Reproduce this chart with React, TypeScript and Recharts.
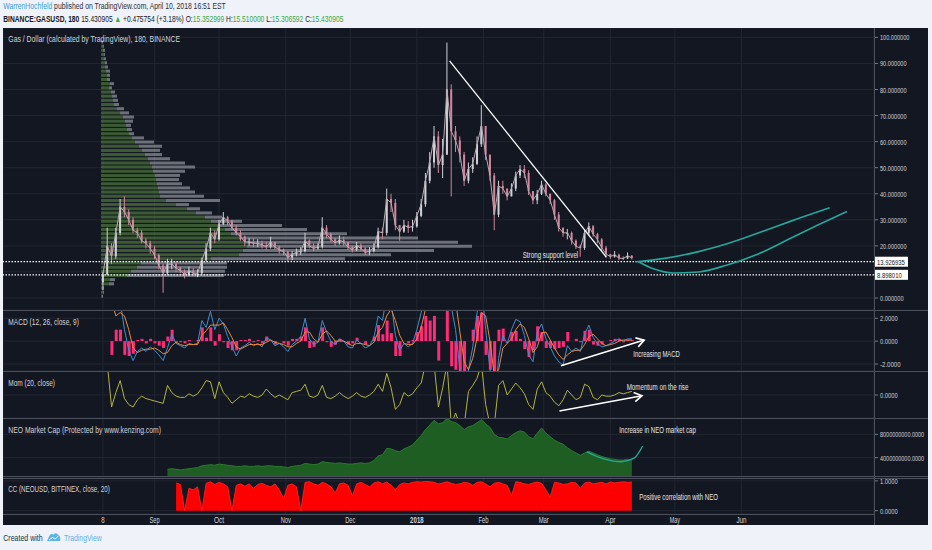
import React from "react";
import {
  ComposedChart,
  BarChart,
  Bar,
  Line,
  Area,
  XAxis,
  YAxis,
  CartesianGrid,
  ReferenceLine,
} from "recharts";

const FONT = "'Liberation Sans', Arial, sans-serif";
const BG = "#131722";
const GRID = "#222631";
const BORDER = "#4a4f5b";
const AXIS_TEXT = "#d1d4dc";
const TEAL = "#26a69a";
const CANDLE_UP = "#cfd0d6";
const CANDLE_DOWN = "#d4849b";
const UP_GREEN = "#35a84a";
const DARK_TEXT = "#131722";

const CHART_W = 925;
const AXIS_W = 54;
const X_DOMAIN: [number, number] = [-46.5, 358.6];

// x axis: days since Aug 8 2017
const monthTicks = [0, 24, 54, 85, 115, 146, 177, 205, 236, 266, 297];
const monthLabels = ["8", "Sep", "Oct", "Nov", "Dec", "2018", "Feb", "Mar", "Apr", "May", "Jun"];

// GAS/USD, one candle every 2 days from Aug 8 2017
const closes = [
  9, 20, 16, 25, 35, 33, 30, 26, 25, 22, 21, 19, 16.5, 12.5, 9.5, 13, 13, 11.5, 10.5, 9,
  10.5, 9.5, 9.5, 14.5, 19, 25, 22.5, 28.5, 31, 29.5, 27, 25, 23.5, 21.5, 21.5, 21, 21, 20.3, 19.7, 21.5,
  19.5, 18.5, 17.8, 15.5, 16.8, 17.5, 18, 22, 20, 19, 19.7, 27, 24.5, 22.5, 21.2, 22.2, 21.5, 19.5, 18.5, 20.2,
  19, 17.5, 18, 19.5, 25.5, 25, 38, 36.5, 28, 25.5, 28, 27, 27.5, 31.5, 36, 45, 52, 62, 51, 55,
  80, 64, 60.5, 55, 45, 49.5, 51.5, 59, 66, 55, 47, 32, 43, 42, 39, 42, 47, 49.5, 48, 41,
  37.5, 40, 43.5, 40, 37.5, 32, 27, 25, 25, 22, 19.8, 19.2, 25, 27.5, 24.5, 22.5, 19.3, 16.8, 15.9, 16.6,
  15.3, 15.2, 16.2, 15.4,
];
const highs = [
  10, 27, 21, 27, 38, 39, 34, 31, 27, 26, 23, 22, 20, 17, 13, 15, 15, 14, 12, 11,
  12, 11.5, 11, 15.5, 21, 27, 26, 30, 33, 31.5, 30, 28, 26, 24, 23, 23, 22.5, 22, 21.5, 23.5,
  21.5, 20, 19, 18, 18, 19, 19.5, 25, 22.5, 21, 21, 31, 28, 25, 23, 24, 23.5, 21.5, 20, 21.5,
  21, 19.5, 19.5, 21, 27, 27, 42, 40, 38, 28, 30, 29.5, 30, 33, 38, 48, 56, 66, 64, 61,
  98, 82, 66, 62, 56, 52, 54, 62, 74, 66, 55, 48, 45, 45, 42, 44, 48.5, 51, 51, 49,
  41, 41.5, 45, 44, 40, 38, 33, 27, 26.5, 25.5, 22.5, 20.5, 26, 29, 28, 25, 23, 20, 17, 18,
  17, 16, 17.5, 16.5,
];
const lows = [
  3, 9, 13, 15, 24, 31, 28, 25, 23, 21, 19, 17, 15, 11, 2, 9, 11, 10, 9.5, 7.5,
  8.5, 8.5, 8, 9, 14, 18, 21, 22, 28, 28, 26, 24, 22, 20, 20, 19.5, 19.5, 19, 18.5, 19,
  18.5, 17, 16.5, 14, 14.5, 16, 16.5, 17.5, 19, 18, 18.5, 19, 23, 21.5, 20, 20.5, 20, 18.5, 17.5, 18,
  18, 16.5, 16.5, 17.5, 19, 22.5, 24, 33, 26, 22, 25, 25, 25.5, 27, 31, 35, 44, 50, 48, 46,
  55, 39, 56, 52, 43, 44, 48, 51, 58, 53, 45, 26, 31, 40, 37.5, 39, 41, 46, 46, 39.5,
  36, 36, 39.5, 39, 36, 30, 25.5, 23.5, 22.5, 20.5, 18.8, 15.8, 18.5, 24, 23.5, 21, 18, 15.5, 15, 15.5,
  14.5, 14.6, 15, 14.8,
];

// MACD (12, 26, close, 9)
const macdLine = [
  null, null, 3.0, 3.2, 3.5, 1.0, -0.8, -1.7, -0.9, -0.6, -0.9, -0.5, -0.8, -1.2, -1.7, -0.6, 0.6, -0.2, -0.4, -0.6,
  -0.2, -0.3, -0.2, 1.8, 1.2, 2.6, 1.0, 2.0, 1.5, 0.4, -0.5, -1.3, -0.6, -0.4, -0.1, -0.4, -0.2, -0.5, 0.3, 0.1,
  -0.4, -0.2, -0.5, -0.9, -0.3, 0.0, 0.4, 2.0, 0.2, -0.3, -0.1, 1.8, 0.8, 0.0, -0.3, 0.2, 0.0, -0.5, -0.6, 0.1,
  -0.2, -0.6, -0.4, 0.3, 2.2, 1.8, 4.0, 3.5, 0.5, -0.8, -0.2, -0.5, -0.2, 1.0, 2.5, 5, 6, 8, 3.5, 4.5,
  9, 3.0, 1.0, -2.5, -5, -2.5, -0.5, 2.5, 5, 1.0, -2.5, -6, -1.5, 0.5, -0.2, 1.0, 1.9, 1.7, 0.5, -1.2,
  -1.8, 0.8, 1.5, 0.2, -0.5, -1.3, -1.8, -2.1, -0.4, -0.9, -0.6, -0.9, 0.6, 1.4, 0.3, -0.2, -0.5, -0.4, -0.2, 0.0,
  0.2, 0.0, 0.2, 0.2,
];
const signalLine = [
  null, null, 3.5, 2.2, 2.5, 2.2, 1.0, -0.6, -1.0, -0.8, -0.7, -0.7, -0.6, -0.8, -1.1, -1.0, -0.4, -0.1, -0.3, -0.4,
  -0.3, -0.3, -0.3, 0.5, 0.9, 1.4, 1.4, 1.4, 1.6, 1.0, 0.3, -0.5, -0.7, -0.5, -0.3, -0.3, -0.3, -0.3, -0.1, 0.1,
  -0.1, -0.2, -0.3, -0.5, -0.5, -0.2, 0.0, 0.8, 0.8, 0.2, -0.1, 0.6, 0.9, 0.5, 0.0, 0.0, 0.0, -0.2, -0.4, -0.2,
  -0.2, -0.3, -0.4, -0.1, 0.8, 1.2, 2.2, 2.8, 1.8, 0.5, -0.2, -0.3, -0.3, 0.2, 1.2, 2.8, 4.2, 5.8, 5.2, 4.5,
  6, 5.2, 3.5, 0.8, -1.8, -2.5, -1.5, 0.3, 2.5, 2.2, 0.0, -3, -2.5, -0.6, -0.2, 0.2, 1.0, 1.5, 1.2, 0.2,
  -1.0, -0.5, 0.7, 0.8, 0.1, -0.6, -1.2, -1.6, -1.2, -0.9, -0.8, -0.8, -0.3, 0.4, 0.6, 0.2, -0.2, -0.4, -0.3, -0.2,
  0.0, 0.1, 0.1, 0.1,
];
const macdHist = [
  null, null, -1.2, 1.0, 1.0, -1.2, -1.3, -1.1, 0.1, 0.2, -0.2, 0.2, -0.2, -0.4, -0.6, 0.4, 1.0, -0.1, -0.1, -0.2,
  0.1, 0.0, 0.1, 1.2, 0.3, 1.2, -0.4, 0.6, -0.1, -0.6, -0.8, -0.8, 0.1, 0.1, 0.2, -0.1, 0.1, -0.2, 0.4, 0.0,
  -0.3, 0.0, -0.2, -0.4, 0.2, 0.2, 0.4, 1.2, -0.6, -0.5, 0.0, 1.2, -0.1, -0.5, -0.3, 0.2, 0.0, -0.3, -0.2, 0.3,
  0.0, -0.3, 0.0, 0.4, 1.4, 0.6, 1.8, 0.7, -1.3, -1.3, 0.0, -0.2, 0.1, 0.8, 1.3, 2.2, 1.8, 2.2, -1.7, 0.0,
  3.0, -2.2, -2.5, -3.0, -3.0, 0.0, 1.0, 2.2, 2.5, -1.2, -2.5, -3.0, 1.0, 1.1, 0.0, 0.8, 0.9, 0.2, -0.7, -1.4,
  -0.8, 1.3, 0.8, -0.6, -0.6, -0.7, -0.6, -0.5, 0.8, 0.0, 0.2, -0.1, 0.9, 1.0, -0.3, -0.4, -0.3, 0.0, 0.1, 0.2,
  0.2, -0.1, 0.1, 0.1,
];

// Mom (20, close)
const momentum = [
  null, 26, -10, 2, 12, -3, -8, -10, -4, -1, -3, -4, -5, -6, -7, 8, 2, -1, -2, -2,
  1, -1, 1, 6, 12, 11, -3, 11, 2, -2, -7, -4, -1, -2, 1, -1, -2, 0, 5, 1,
  -2, 0, -2, -4, 2, 3, 4, 9, -1, -2, 0, 8, -2, -3, -1, 2, -1, -3, -1, 2,
  -1, -2, 0, 3, 9, 3, 18, 6, -12, -8, 2, -1, 1, 6, 10, 26, 26, 26, -10, 6,
  26, -25, -15, -25, -25, 3, 8, 14, 26, -8, -25, -25, 8, 12, 0, 5, 10, 6, 1, -8,
  -12, 5, 11, 2, -1, -6, -9, -4, 4, 0, -4, -2, 9, 7, -2, -4, 0, -1, -1, 0,
  2, 1, 2, 3,
];

// NEO market cap, billions USD
const neoCapBn = [
  null, null, null, null, null, null, null, null, null, null, null, null, null, null, null,
  2.0, 2.1, 2.0, 1.9, 2.0, 2.1, 2.2, 2.3, 2.6, 2.7, 2.8, 2.7, 2.9, 2.8, 2.7, 2.6, 2.5, 2.5, 2.6, 2.5,
  2.5, 2.6, 2.5, 2.6, 2.6, 2.5, 2.5, 2.4, 2.3, 2.5, 2.6, 2.7, 3.0, 2.9, 2.8, 2.9, 3.3, 3.2, 3.1, 3.0,
  3.1, 3.0, 2.9, 2.9, 3.0, 3.1, 3.0, 3.1, 3.5, 4.3, 4.5, 5.6, 5.5, 5.2, 5.0, 5.5, 5.8, 6.2, 7.0, 7.8,
  8.8, 9.6, 10.4, 9.8, 10.0, 10.7, 10.2, 10.0, 9.5, 8.8, 9.3, 9.5, 10.0, 10.5, 9.8, 9.2, 8.0, 7.5, 7.4, 7.2,
  7.8, 8.3, 8.6, 8.4, 7.6, 7.2, 8.2, 9.1, 8.2, 7.6, 7.0, 6.6, 6.3, 5.7, 5.2, 4.8, 4.4, 4.8, 5.1, 4.8,
  4.5, 4.2, 4.0, 3.8, 3.7, 3.6, 3.6, 3.7, 3.6,
];

// CC (NEOUSD, BITFINEX, close, 20)
const correlation = [
  null, null, null, null, null, null, null, null, null, null, null, null, null, null, null, null, null,
  0.93, 0.88, 0.0, 0.75, 0.7, 0.8, 0.0, 0.92, 0.97, 0.88, 0.95, 0.9, 0.8, 0.0, 0.85, 0.9, 0.82, 0.9, 0.75,
  0.88, 0.92, 0.85, 0.8, 0.9, 0.7, 0.4, 0.85, 0.9, 0.8, 0.0, 0.95, 0.97, 0.9, 0.85, 0.95, 0.9, 0.8, 0.6,
  0.9, 0.93, 0.85, 0.5, 0.9, 0.95, 0.88, 0.8, 0.93, 0.97, 0.9, 0.96, 0.85, 0.7, 0.88, 0.93, 0.9, 0.95, 0.97,
  0.96, 0.98, 0.97, 0.95, 0.9, 0.93, 0.97, 0.92, 0.88, 0.9, 0.95, 0.93, 0.85, 0.95, 0.97, 0.9, 0.8, 0.92,
  0.95, 0.9, 0.85, 0.5, 0.97, 0.95, 0.9, 0.88, 0.93, 0.96, 0.92, 0.7, 0.45, 0.95, 0.93, 0.88, 0.9, 0.95,
  0.93, 0.75, 0.93, 0.96, 0.9, 0.93, 0.95, 0.9, 0.96, 0.93, 0.95, 0.97, 0.95, 0.96,
];

// visible range volume profile, one row per 1.6 price step from 0.8 upward
const profileUp = [
  1, 2, 2, 8, 9, 26, 30, 36, 40, 110, 138, 142, 146, 146, 138, 130, 124, 118, 110, 104,
  95, 86, 75, 65, 59, 58, 57, 56, 55, 54, 52, 51, 49, 47, 44, 41, 38, 34, 31, 28,
  26, 25, 24, 22, 19, 16, 13, 12, 11, 10, 8, 9, 6, 6, 5, 4, 4, 3, 3, 2, 2, 1,
];
const profileTotal = [
  2, 3, 3, 13, 14, 123, 124, 126, 126, 244, 290, 333, 371, 357, 317, 246, 206, 181, 141, 121,
  111, 99, 88, 119, 103, 94, 89, 81, 78, 79, 84, 94, 84, 69, 61, 59, 61, 53, 43, 33,
  31, 30, 32, 33, 28, 23, 18, 17, 16, 14, 11, 13, 9, 9, 9, 7, 6, 5, 4, 4, 3, 2,
];

// drawn projections
const projectionUpper = [
  { d: 248, v: 13.9 }, { d: 262, v: 15.3 }, { d: 277, v: 17.8 }, { d: 291, v: 21 },
  { d: 305, v: 25 }, { d: 320, v: 29.5 }, { d: 338, v: 34.6 },
];
const projectionLower = [
  { d: 249, v: 13.9 }, { d: 256, v: 11.2 }, { d: 265, v: 9.6 }, { d: 277, v: 10 },
  { d: 290, v: 12.6 }, { d: 305, v: 17 }, { d: 320, v: 23 }, { d: 334, v: 28.6 }, { d: 346, v: 33.2 },
];
const neoProjection = [
  { d: 225, v: 5.0 }, { d: 233, v: 3.8 }, { d: 241, v: 3.3 }, { d: 247, v: 3.9 }, { d: 251, v: 6.0 },
];
const supportLevels = [13.926935, 8.89801];
const supportLabels = ["13.926935", "8.898010"];

const days = closes.map((_, i) => i * 2);

const priceData = days.map((d, i) => ({
  d,
  o: i === 0 ? 6 : closes[i - 1],
  c: closes[i],
  h: highs[i],
  l: lows[i],
  range: [lows[i], highs[i]],
}));
const macdData = days.map((d, i) => ({ d, macd: macdLine[i], signal: signalLine[i], hist: macdHist[i] }));
const momData = days.map((d, i) => ({ d, mom: momentum[i] }));
const neoData = days.map((d, i) => ({ d, cap: neoCapBn[i] }));
const ccData = days.map((d, i) => ({ d, cc: correlation[i] }));
const profileData = profileTotal.map((t, i) => ({
  p: 0.8 + 1.6 * i,
  up: profileUp[i],
  down: t - profileUp[i],
}));

const PRICE_DOMAIN: [number, number] = [-4.6, 103.6];
const MACD_DOMAIN: [number, number] = [-2.61, 2.72];
const MOM_DOMAIN: [number, number] = [-19.2, 20];
const NEO_DOMAIN: [number, number] = [0.68, 10.8];
const CC_DOMAIN: [number, number] = [-0.11, 1.13];

const noMargin = { top: 0, right: 0, bottom: 0, left: 0 };

// the screenshot is squeezed sideways, so texts get scaled to their measured width
let measureCtx: CanvasRenderingContext2D | null = null;
function measure(text: string, size: number, weight?: string) {
  if (!measureCtx) measureCtx = document.createElement("canvas").getContext("2d");
  if (!measureCtx) return text.length * size * 0.5;
  measureCtx.font = `${weight || "normal"} ${size}px ${FONT}`;
  return measureCtx.measureText(text).width;
}

type Seg = { t: string; fill?: string; weight?: string };

function Squeezed({ x, y, w, segs, size = 8.5, fill = AXIS_TEXT, anchor }: any) {
  const parts: Seg[] = segs;
  const natural = parts.reduce((s, p) => s + measure(p.t, size, p.weight), 0);
  const sx = natural > 0 ? w / natural : 1;
  const left = anchor === "middle" ? x - w / 2 : x;
  return (
    <text
      transform={`translate(${left},${y}) scale(${sx},1)`}
      fontSize={size}
      fontFamily={FONT}
      fill={fill}
      style={{ whiteSpace: "pre" }}
    >
      {parts.map((p, i) => (
        <tspan key={i} fill={p.fill || fill} fontWeight={p.weight}>
          {p.t}
        </tspan>
      ))}
    </text>
  );
}

function T({ x, y, w, children, size = 8.5, fill = AXIS_TEXT, weight, anchor }: any) {
  return <Squeezed x={x} y={y} w={w} size={size} fill={fill} anchor={anchor} segs={[{ t: String(children), weight }]} />;
}

const yTick = (fmt: (v: number) => string, skip: number[] = []) => (props: any) => {
  const { x, y, payload } = props;
  if (skip.includes(payload.value)) return <g />;
  const s = fmt(payload.value);
  return (
    <T x={x} y={y + 3} w={s.length * 2.95} size={8}>
      {s}
    </T>
  );
};

const XTick = (props: any) => {
  const { x, y, payload } = props;
  const label = monthLabels[monthTicks.indexOf(payload.value)] ?? "";
  return (
    <T x={x} y={y + 9} w={label.length * 3.4} anchor="middle" size={9} weight={label === "2018" ? "bold" : undefined}>
      {label}
    </T>
  );
};

const Candle = (props: any) => {
  const { x, y, width, height, payload } = props;
  if (!payload || height == null || isNaN(height)) return <g />;
  const { o, c, h, l } = payload;
  const top = Math.min(y, y + height);
  const span = Math.abs(height);
  const k = span / Math.max(h - l, 1e-6);
  const bodyTop = top + (h - Math.max(o, c)) * k;
  const bodyBot = top + (h - Math.min(o, c)) * k;
  const color = c >= o ? CANDLE_UP : CANDLE_DOWN;
  const cx = x + width / 2;
  return (
    <g>
      <line x1={cx} x2={cx} y1={top} y2={top + span} stroke={color} strokeWidth={1} />
      <rect x={x} y={bodyTop} width={width} height={Math.max(bodyBot - bodyTop, 1)} fill={color} />
    </g>
  );
};

const Arrow = (props: any) => {
  const { x1, y1, x2, y2 } = props;
  const a = Math.atan2(y2 - y1, x2 - x1);
  const L = 9;
  const s = 0.55;
  const ax = x2 - L * Math.cos(a - s);
  const ay = y2 - L * Math.sin(a - s);
  const bx = x2 - L * Math.cos(a + s);
  const by = y2 - L * Math.sin(a + s);
  return (
    <g>
      <line x1={x1} y1={y1} x2={x2} y2={y2} stroke="#ffffff" strokeWidth={1.6} />
      <polyline points={`${ax},${ay} ${x2},${y2} ${bx},${by}`} fill="none" stroke="#ffffff" strokeWidth={1.6} />
    </g>
  );
};

const priceTag = (text: string) => (props: any) => {
  const vb = props.viewBox;
  if (!vb) return <g />;
  const x = vb.x + vb.width + 1;
  return (
    <g>
      <rect x={x} y={vb.y - 5} width={33} height={10} fill="#ffffff" />
      <T x={x + 2} y={vb.y + 3.3} w={text.length * 3.1} size={8} fill={DARK_TEXT}>
        {text}
      </T>
    </g>
  );
};

function Box({ left, top, children }: any) {
  return <div style={{ position: "absolute", left, top }}>{children}</div>;
}

function PriceAxes({ showTicks }: { showTicks: boolean }) {
  return [
    <XAxis key="x" type="number" dataKey="d" domain={X_DOMAIN} ticks={monthTicks} hide allowDataOverflow />,
    <YAxis
      key="y"
      orientation="right"
      width={AXIS_W}
      domain={PRICE_DOMAIN}
      ticks={[0, 10, 20, 30, 40, 50, 60, 70, 80, 90, 100]}
      interval={0}
      allowDataOverflow
      axisLine={false}
      tickLine={showTicks ? { stroke: "#787b86" } : false}
      tickSize={4}
      tickMargin={2}
      tick={showTicks ? yTick((v) => v.toFixed(6), [10]) : false}
    />,
  ];
}

export default function App() {
  return (
    <div
      style={{
        position: "absolute",
        left: 0,
        top: 0,
        width: 932,
        height: 550,
        background: "#eff2f8",
        overflow: "hidden",
        fontFamily: FONT,
      }}
    >
      <div style={{ position: "absolute", left: 3, top: 28, width: 925, height: 497, background: BG }} />

      {/* main price pane, grid layer */}
      <Box left={3} top={28}>
        <ComposedChart width={CHART_W} height={282} data={priceData} margin={noMargin}>
          <CartesianGrid stroke={GRID} />
          {PriceAxes({ showTicks: true })}
        </ComposedChart>
      </Box>

      {/* volume profile */}
      <Box left={101} top={28}>
        <BarChart width={500} height={282} data={profileData} layout="vertical" margin={noMargin}>
          <XAxis type="number" domain={[0, 500]} hide allowDataOverflow />
          <YAxis type="number" dataKey="p" domain={PRICE_DOMAIN} hide reversed allowDataOverflow />
          <Bar dataKey="up" stackId="vp" fill="#4a7139" fillOpacity={0.75} barSize={3} isAnimationActive={false} />
          <Bar dataKey="down" stackId="vp" fill="#8a8d96" fillOpacity={0.75} barSize={3} isAnimationActive={false} />
        </BarChart>
      </Box>

      {/* main price pane, series layer */}
      <Box left={3} top={28}>
        <ComposedChart width={CHART_W} height={282} data={priceData} margin={noMargin}>
          {PriceAxes({ showTicks: false })}
          <Line dataKey="c" type="linear" stroke="#b8aab3" strokeWidth={1} dot={false} isAnimationActive={false} />
          <Bar dataKey="range" shape={Candle} barSize={2} isAnimationActive={false} />
          {supportLevels.map((lv, i) => (
            <ReferenceLine
              key={lv}
              y={lv}
              stroke="#ffffff"
              strokeWidth={1.2}
              strokeDasharray="1.5 1.5"
              label={{ content: priceTag(supportLabels[i]) }}
            />
          ))}
          <ReferenceLine
            segment={[
              { x: 161.2, y: 91 },
              { x: 234.1, y: 15.7 },
            ]}
            stroke="#ffffff"
            strokeWidth={1.3}
          />
          <Line data={projectionUpper} dataKey="v" type="monotone" stroke={TEAL} strokeWidth={1.6} dot={false} isAnimationActive={false} />
          <Line data={projectionLower} dataKey="v" type="monotone" stroke={TEAL} strokeWidth={1.6} dot={false} isAnimationActive={false} />
        </ComposedChart>
      </Box>

      {/* MACD */}
      <Box left={3} top={310}>
        <ComposedChart width={CHART_W} height={61} data={macdData} margin={noMargin}>
          <CartesianGrid stroke={GRID} />
          <XAxis type="number" dataKey="d" domain={X_DOMAIN} ticks={monthTicks} hide allowDataOverflow />
          <YAxis
            orientation="right"
            width={AXIS_W}
            domain={MACD_DOMAIN}
            ticks={[-2, 0, 2]}
            interval={0}
            allowDataOverflow
            axisLine={false}
            tickLine={{ stroke: "#787b86" }}
            tickSize={4}
            tickMargin={2}
            tick={yTick((v) => v.toFixed(4))}
          />
          <Bar dataKey="hist" fill="#ff2a78" barSize={3} isAnimationActive={false} />
          <Line dataKey="macd" type="linear" stroke="#3d8fd1" strokeWidth={1} dot={false} isAnimationActive={false} />
          <Line dataKey="signal" type="linear" stroke="#e8893c" strokeWidth={1} dot={false} isAnimationActive={false} />
          <ReferenceLine
            segment={[
              { x: 213, y: -2.15 },
              { x: 251.7, y: 0.09 },
            ]}
            shape={Arrow}
          />
        </ComposedChart>
      </Box>

      {/* Momentum */}
      <Box left={3} top={371}>
        <ComposedChart width={CHART_W} height={47} data={momData} margin={noMargin}>
          <CartesianGrid stroke={GRID} />
          <XAxis type="number" dataKey="d" domain={X_DOMAIN} ticks={monthTicks} hide allowDataOverflow />
          <YAxis
            orientation="right"
            width={AXIS_W}
            domain={MOM_DOMAIN}
            ticks={[0]}
            interval={0}
            allowDataOverflow
            axisLine={false}
            tickLine={{ stroke: "#787b86" }}
            tickSize={4}
            tickMargin={2}
            tick={yTick((v) => v.toFixed(4))}
          />
          <Line dataKey="mom" type="linear" stroke="#b3b43a" strokeWidth={1} dot={false} isAnimationActive={false} />
          <ReferenceLine
            segment={[
              { x: 212.3, y: -13.3 },
              { x: 250.7, y: -0.6 },
            ]}
            shape={Arrow}
          />
        </ComposedChart>
      </Box>

      {/* NEO market cap */}
      <Box left={3} top={418}>
        <ComposedChart width={CHART_W} height={59} data={neoData} margin={noMargin}>
          <CartesianGrid stroke={GRID} />
          <XAxis type="number" dataKey="d" domain={X_DOMAIN} ticks={monthTicks} hide allowDataOverflow />
          <YAxis
            orientation="right"
            width={AXIS_W}
            domain={NEO_DOMAIN}
            ticks={[4, 8]}
            interval={0}
            allowDataOverflow
            axisLine={false}
            tickLine={{ stroke: "#787b86" }}
            tickSize={4}
            tickMargin={2}
            tick={yTick((v) => (v * 1e9).toFixed(4))}
          />
          <Area
            dataKey="cap"
            type="linear"
            baseValue={NEO_DOMAIN[0]}
            stroke="#2a7a2e"
            strokeWidth={1}
            fill="#1e5e22"
            fillOpacity={1}
            isAnimationActive={false}
          />
          <Line data={neoProjection} dataKey="v" type="monotone" stroke={TEAL} strokeWidth={1.4} dot={false} isAnimationActive={false} />
        </ComposedChart>
      </Box>

      {/* Correlation coefficient + time axis */}
      <Box left={3} top={477}>
        <ComposedChart width={CHART_W} height={48} data={ccData} margin={noMargin}>
          <CartesianGrid stroke={GRID} />
          <XAxis
            type="number"
            dataKey="d"
            domain={X_DOMAIN}
            ticks={monthTicks}
            interval={0}
            allowDataOverflow
            height={11}
            axisLine={false}
            tickLine={false}
            tickSize={0}
            tickMargin={0}
            tick={XTick}
          />
          <YAxis
            orientation="right"
            width={AXIS_W}
            domain={CC_DOMAIN}
            ticks={[0, 1]}
            interval={0}
            allowDataOverflow
            axisLine={false}
            tickLine={{ stroke: "#787b86" }}
            tickSize={4}
            tickMargin={2}
            tick={yTick((v) => v.toFixed(4))}
          />
          <Area
            dataKey="cc"
            type="linear"
            baseValue={0}
            stroke="#ff1a1a"
            strokeWidth={1}
            fill="#ff0000"
            fillOpacity={1}
            isAnimationActive={false}
          />
        </ComposedChart>
      </Box>

      {/* pane borders, titles and notes */}
      <svg width={932} height={550} style={{ position: "absolute", left: 0, top: 0, pointerEvents: "none" }}>
        {[310.5, 371.5, 418.5, 476.5, 478.5].map((y) => (
          <line key={y} x1={3} x2={928} y1={y} y2={y} stroke={BORDER} strokeWidth={1} />
        ))}
        <line x1={3} x2={874} y1={514.5} y2={514.5} stroke={BORDER} strokeWidth={1} />
        <line x1={874.5} x2={874.5} y1={28} y2={525} stroke={BORDER} strokeWidth={1} />

        <T x={8.3} y={41.5} w={172}>Gas / Dollar (calculated by TradingView), 180, BINANCE</T>
        <T x={8.3} y={325} w={70.7}>MACD (12, 26, close, 9)</T>
        <T x={8.3} y={385.5} w={46.7}>Mom (20, close)</T>
        <T x={8.3} y={432.5} w={153}>NEO Market Cap (Protected by www.kenzing.com)</T>
        <T x={8.3} y={491.5} w={101.7}>CC (NEOUSD, BITFINEX, close, 20)</T>

        <T x={522.7} y={257.5} w={55.6} fill="#e6e6e6">Strong support level</T>
        <T x={633.3} y={357} w={46.7} fill="#e6e6e6">Increasing MACD</T>
        <T x={626.7} y={389.5} w={61.7} fill="#e6e6e6">Momentum on the rise</T>
        <T x={619.3} y={432.5} w={76.7} fill="#e6e6e6">Increase in NEO market cap</T>
        <T x={639.3} y={500} w={79} fill="#e6e6e6">Positive correlation with NEO</T>

        {/* header */}
        <Squeezed
          x={3.3}
          y={9.3}
          w={223.4}
          size={9}
          fill="#2a2e39"
          segs={[
            { t: "WarrenHochfeld", fill: "#3d9de0" },
            { t: " published on TradingView.com, April 10, 2018 16:51 EST" },
          ]}
        />
        <Squeezed
          x={3.3}
          y={21.5}
          w={341}
          size={9}
          fill={DARK_TEXT}
          segs={[
            { t: "BINANCE:GASUSD, 180", weight: "bold" },
            { t: " 15.430905 " },
            { t: "\u25B2", fill: UP_GREEN },
            { t: " +0.475754 (+3.18%) O:" },
            { t: "15.352999", fill: UP_GREEN },
            { t: " H:" },
            { t: "15.510000", fill: UP_GREEN },
            { t: " L:" },
            { t: "15.306592", fill: UP_GREEN },
            { t: " C:" },
            { t: "15.430905", fill: UP_GREEN },
          ]}
        />

        {/* footer */}
        <T x={3.3} y={540.5} w={39.4} size={9} fill="#2a2e39">Created with</T>
        <path
          d="M47 541 L49 536.5 Q50.5 533 53.5 534.5 Q56 532 58.5 535 Q61 536.5 60 541 Z"
          fill="#5db3e8"
        />
        <polyline points="49,540 52.5,537.5 55,539 58.5,536" fill="none" stroke="#ffffff" strokeWidth={0.9} />
        <T x={64} y={540.5} w={37.7} size={9} fill="#5fb0e8">TradingView</T>
      </svg>
    </div>
  );
}
